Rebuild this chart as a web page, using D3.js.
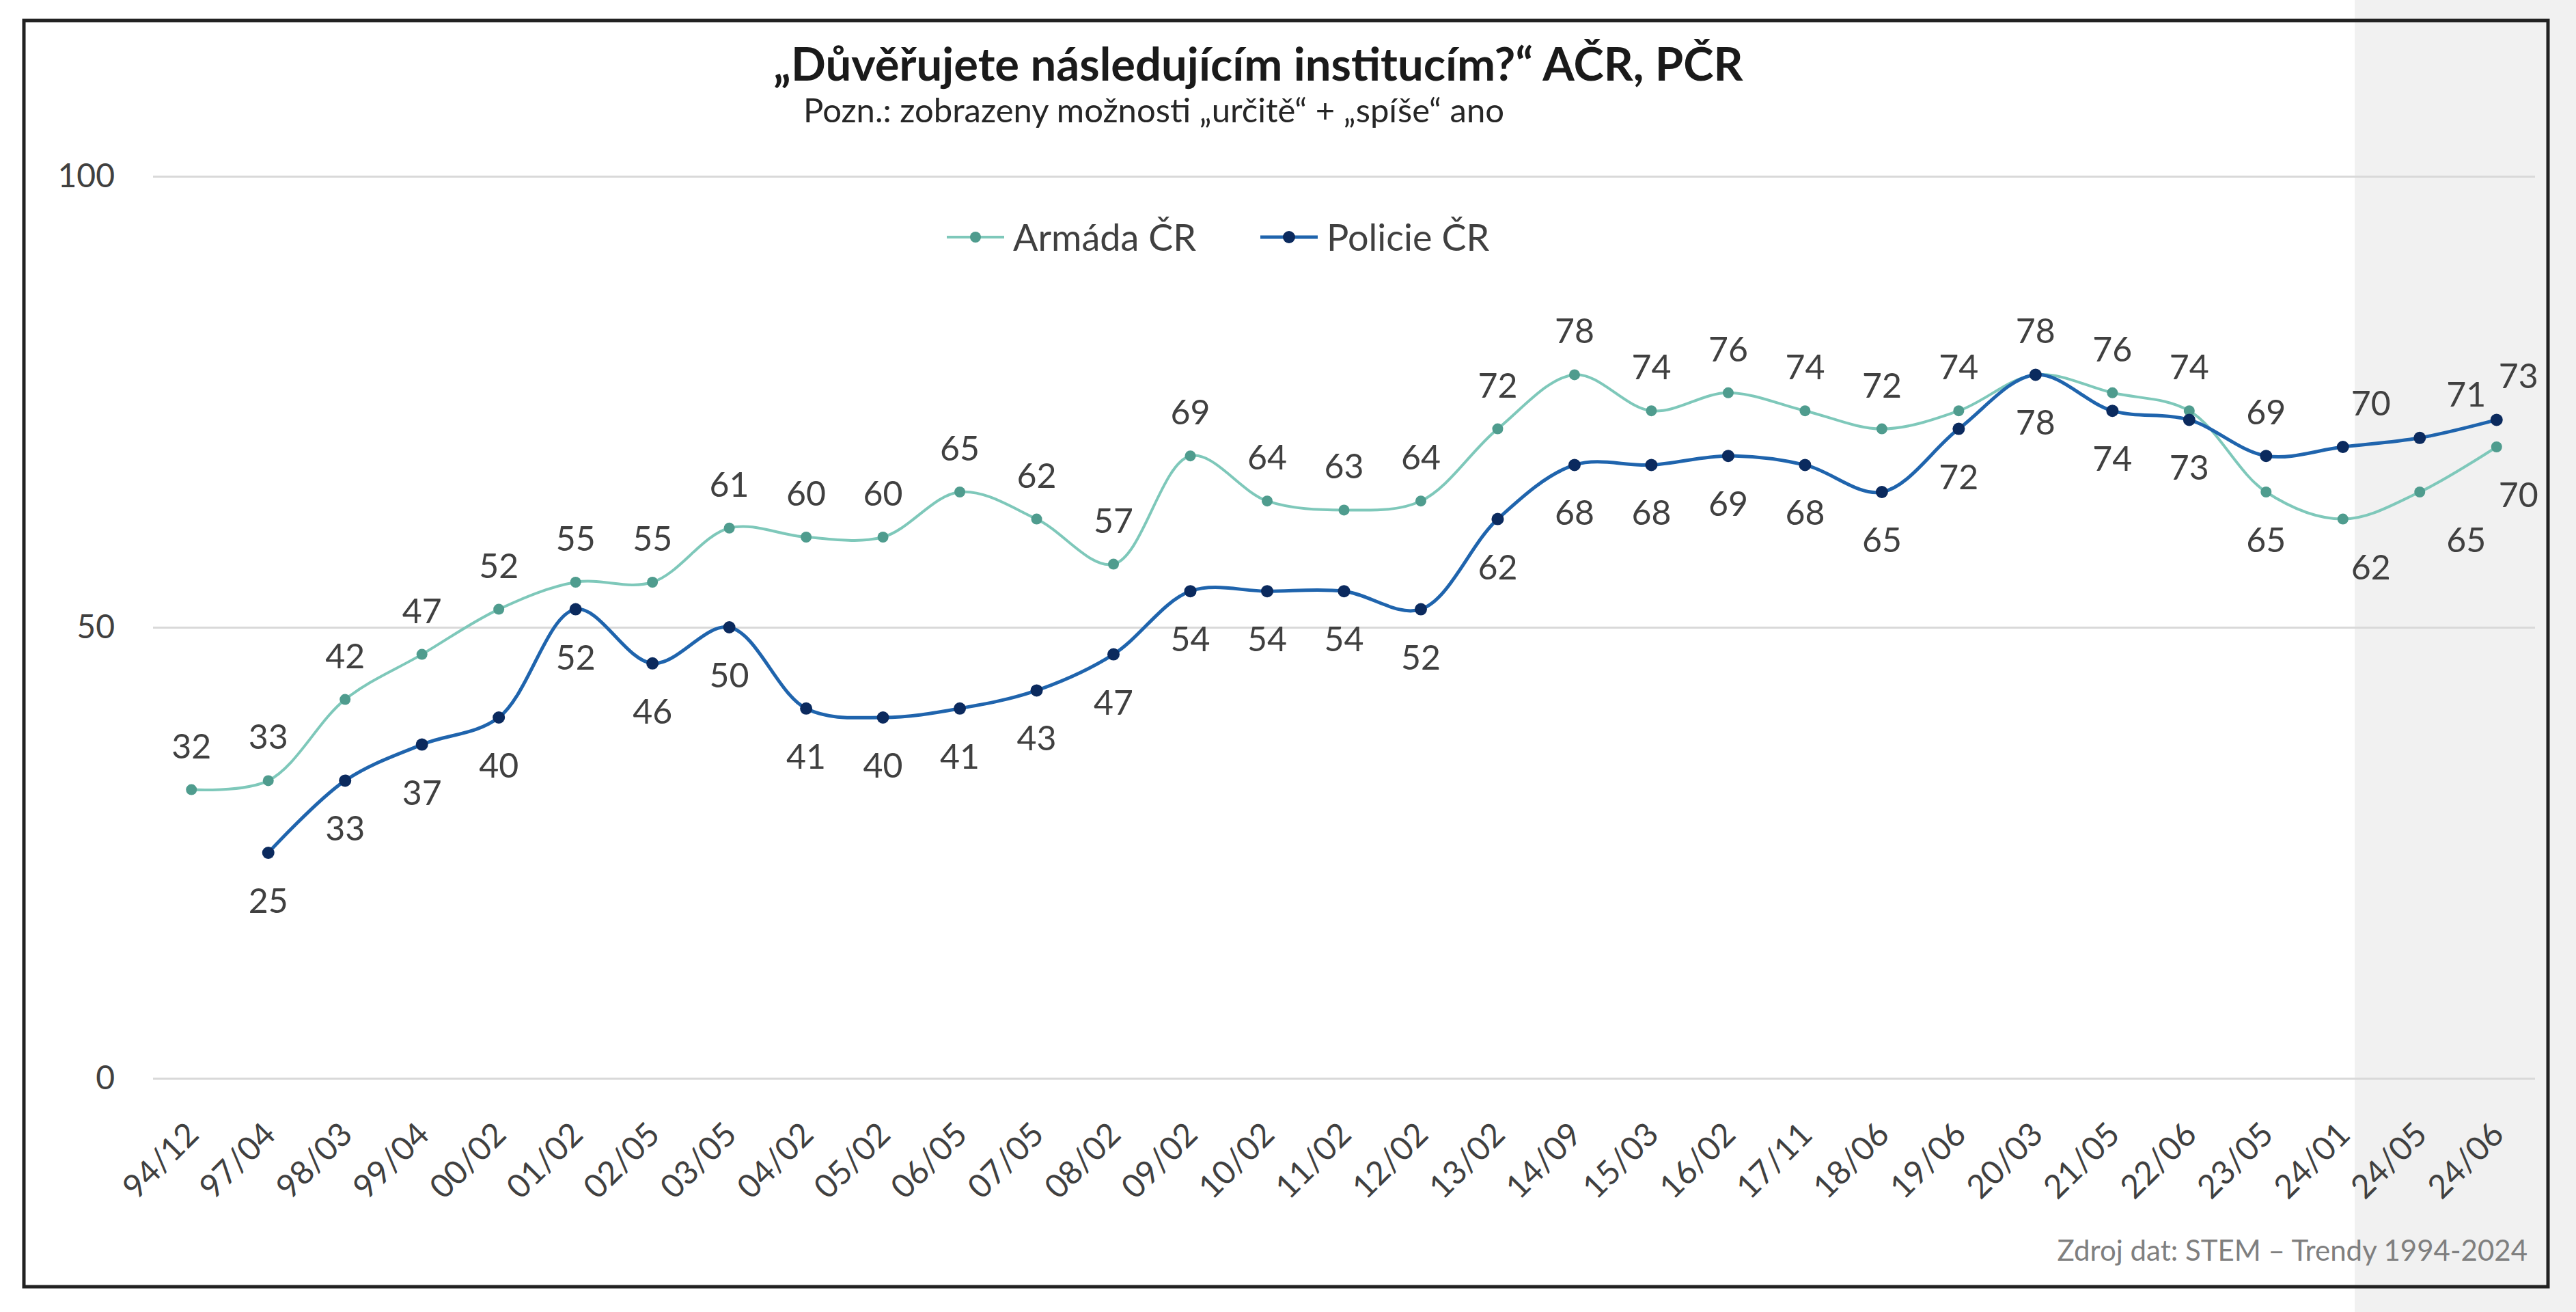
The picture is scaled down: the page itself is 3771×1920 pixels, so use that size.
<!DOCTYPE html>
<html>
<head>
<meta charset="utf-8">
<script src="https://cdn.jsdelivr.net/npm/d3@7"></script>
<style>
body { margin: 0; background: #fff; }
svg text { font-family: Lato, "Open Sans", sans-serif; }
</style>
</head>
<body>
<svg id="chart" width="3771" height="1920"></svg>
<script>
//
// data
//

var periods = ["94/12", "97/04", "98/03", "99/04", "00/02", "01/02", "02/05", "03/05",
	"04/02", "05/02", "06/05", "07/05", "08/02", "09/02", "10/02", "11/02", "12/02",
	"13/02", "14/09", "15/03", "16/02", "17/11", "18/06", "19/06", "20/03", "21/05",
	"22/06", "23/05", "24/01", "24/05", "24/06"];

var armada = [32, 33, 42, 47, 52, 55, 55, 61, 60, 60, 65, 62, 57, 69, 64, 63, 64,
	72, 78, 74, 76, 74, 72, 74, 78, 76, 74, 65, 62, 65, 70];

var policie = [null, 25, 33, 37, 40, 52, 46, 50, 41, 40, 41, 43, 47, 54, 54, 54, 52,
	62, 68, 68, 69, 68, 65, 72, 78, 74, 73, 69, 70, 71, 73];

var yTicks = [0, 50, 100];
var seriesNames = ["Armáda ČR", "Policie ČR"];

var titleText = "„Důvěřujete následujícím institucím?“ AČR, PČR";
var noteText = "Pozn.: zobrazeny možnosti „určitě“ + „spíše“ ano";
var sourceText = "Zdroj dat: STEM – Trendy 1994-2024";

//
// layout
//

var W = 3771, H = 1920;
var plotLeft = 224, plotRight = 3711, plotTop = 258, plotBottom = 1578;

var colArmadaLine = "#7ec8ba", colArmadaDot = "#4f9c8e";
var colPolicieLine = "#1f64ad", colPolicieDot = "#0b2a5e";
var textCol = "#404040";

var svg = d3.select("#chart");

var x = d3.scalePoint()
	.domain(periods)
	.range([plotLeft, plotRight])
	.padding(0.5);

var y = d3.scaleLinear()
	.domain([0, 100])
	.range([plotBottom, plotTop]);

// white page + grey band over the last columns
svg.append("rect")
	.attr("width", W).attr("height", H)
	.attr("fill", "#fff");

svg.append("rect")
	.attr("x", 3447).attr("y", 0)
	.attr("width", W - 3447).attr("height", H)
	.attr("fill", "#f1f1f1");

svg.append("rect")
	.attr("x", 35).attr("y", 30)
	.attr("width", 3695).attr("height", 1853)
	.attr("fill", "none")
	.attr("stroke", "#222")
	.attr("stroke-width", 5);

// title
svg.append("text")
	.attr("x", 1842).attr("y", 118)
	.attr("text-anchor", "middle")
	.attr("font-size", 67)
	.attr("font-weight", "bold")
	.attr("fill", "#1a1a1a")
	.text(titleText);

svg.append("text")
	.attr("x", 1176).attr("y", 179)
	.attr("font-size", 49)
	.attr("fill", "#262626")
	.text(noteText);

// y axis with gridlines
var gy = svg.append("g")
	.attr("transform", "translate(" + plotLeft + ",0)")
	.call(d3.axisLeft(y)
		.tickValues(yTicks)
		.tickSize(-(plotRight - plotLeft))
		.tickPadding(56));

gy.select(".domain").remove();
gy.selectAll(".tick line")
	.attr("stroke", "#d9d9d9")
	.attr("stroke-width", 3);
gy.selectAll(".tick text")
	.attr("font-size", 48)
	.attr("fill", textCol);

// x axis, labels at 45 degrees
var gx = svg.append("g")
	.attr("transform", "translate(0," + plotBottom + ")")
	.call(d3.axisBottom(x).tickSize(0));

gx.select(".domain").remove();
gx.selectAll(".tick text")
	.attr("y", 0)
	.attr("dy", 0)
	.attr("text-anchor", "end")
	.attr("transform", "translate(13,85) rotate(-45)")
	.attr("font-size", 48)
	.attr("fill", textCol);

// series
var line = d3.line()
	.defined(d => d.v != null)
	.x(d => x(d.p))
	.y(d => y(d.v))
	.curve(d3.curveCatmullRom.alpha(0.5));

function series_points(values)
{
	return values.map(function(v, i) { return {p: periods[i], v: v, i: i}; });
}

// labels of the last three columns were nudged right in the original
var lastShift = {28: 41, 29: 68, 30: 32};

function draw_series(values, lineCol, dotCol, lineW, r)
{
	var pts = series_points(values);
	var g = svg.append("g");

	g.append("path")
		.datum(pts)
		.attr("d", line)
		.attr("fill", "none")
		.attr("stroke", lineCol)
		.attr("stroke-width", lineW);

	var valid = pts.filter(d => d.v != null);

	g.selectAll("circle")
		.data(valid)
		.enter()
		.append("circle")
			.attr("cx", d => x(d.p))
			.attr("cy", d => y(d.v))
			.attr("r", r)
			.attr("fill", dotCol);

	return valid;
}

function draw_labels(valid, aboveFn)
{
	svg.append("g").selectAll("text")
		.data(valid)
		.enter()
		.append("text")
			.attr("x", d => x(d.p) + (lastShift[d.i] || 0))
			.attr("y", d => aboveFn(d.i) ? y(d.v) - 46 : y(d.v) + 88)
			.attr("text-anchor", "middle")
			.attr("font-size", 50)
			.attr("fill", textCol)
			.text(d => d.v);
}

var armadaPts = draw_series(armada, colArmadaLine, colArmadaDot, 4, 8);
var policiePts = draw_series(policie, colPolicieLine, colPolicieDot, 5, 9);

// armada on top until 22/06, then the other way round
draw_labels(armadaPts, i => i < 27);
draw_labels(policiePts, i => i >= 27);

// legend
var legend = [
	{name: seriesNames[0], x: 1386, lc: colArmadaLine, dc: colArmadaDot, r: 8, w: 4},
	{name: seriesNames[1], x: 1845, lc: colPolicieLine, dc: colPolicieDot, r: 9, w: 5}
];

var lg = svg.append("g").selectAll("g")
	.data(legend)
	.enter()
	.append("g")
		.attr("transform", d => "translate(" + d.x + ",347)");

lg.append("line")
	.attr("x1", 0).attr("x2", 84)
	.attr("stroke", d => d.lc)
	.attr("stroke-width", d => d.w);

lg.append("circle")
	.attr("cx", 42)
	.attr("r", d => d.r)
	.attr("fill", d => d.dc);

lg.append("text")
	.attr("x", 97).attr("y", 20)
	.attr("font-size", 54)
	.attr("fill", textCol)
	.text(d => d.name);

// source
svg.append("text")
	.attr("x", 3700).attr("y", 1845)
	.attr("text-anchor", "end")
	.attr("font-size", 42)
	.attr("fill", "#7f7f7f")
	.text(sourceText);
</script>
</body>
</html>
